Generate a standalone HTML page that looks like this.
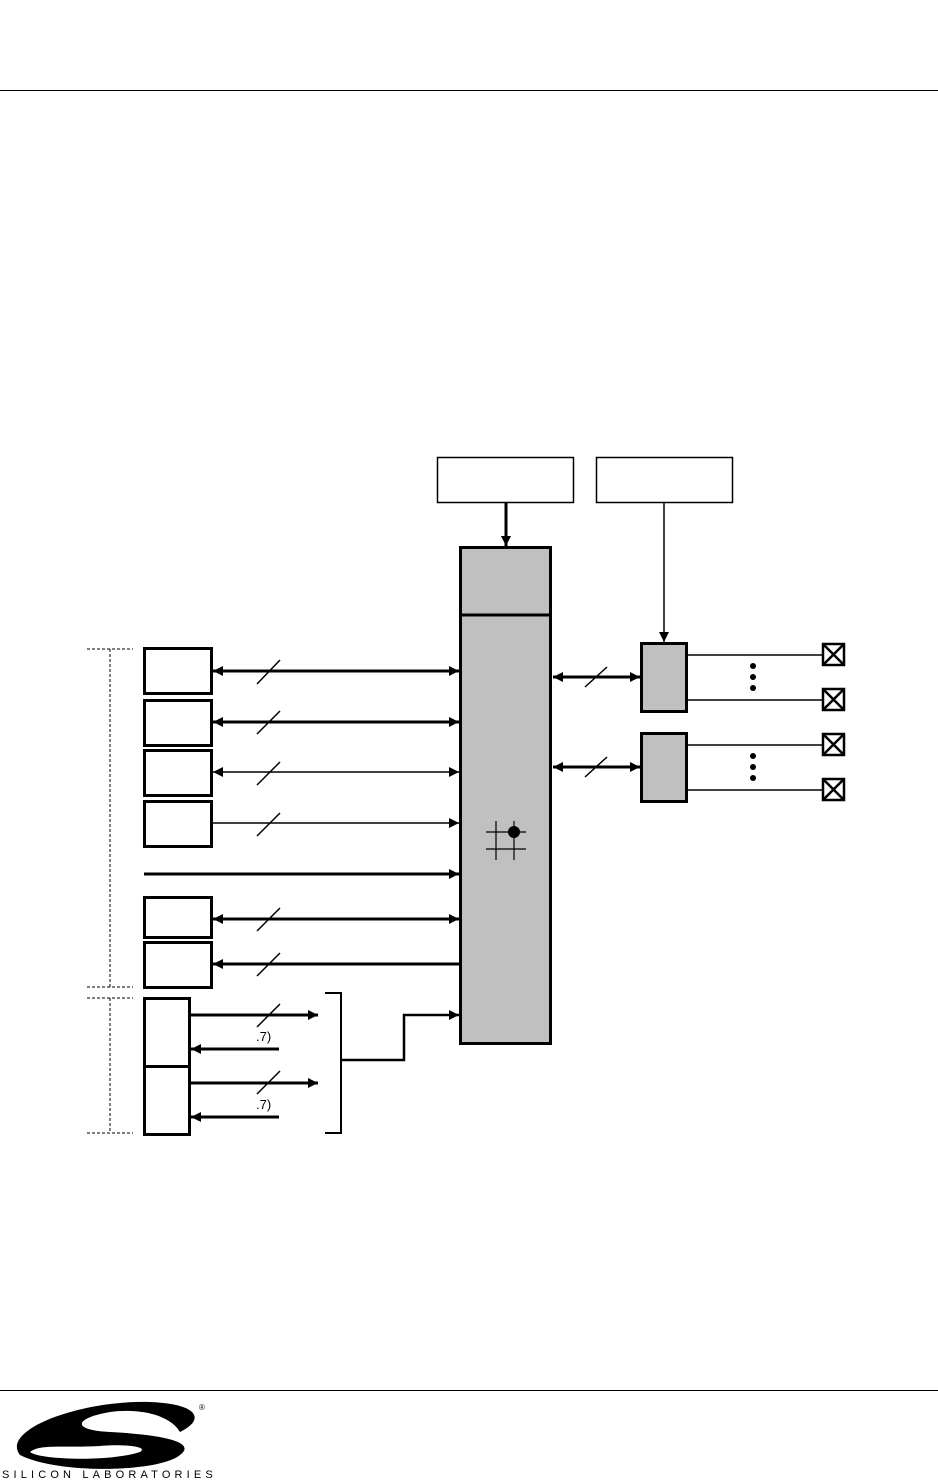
<!DOCTYPE html>
<html><head><style>body{margin:0;background:#fff}svg{display:block}</style></head><body>
<svg width="938" height="1481" viewBox="0 0 938 1481" xmlns="http://www.w3.org/2000/svg" font-family="Liberation Sans, sans-serif">
<defs>
<marker id="b" viewBox="0 0 10 10" refX="10" refY="5" markerWidth="13" markerHeight="10" orient="auto-start-reverse" markerUnits="userSpaceOnUse"><path d="M0,0L10,5L0,10z"/></marker>
</defs>
<line x1="0" y1="90.5" x2="938" y2="90.5" stroke="#000" stroke-width="1"/>
<line x1="0" y1="1390.5" x2="938" y2="1390.5" stroke="#000" stroke-width="1"/>
<g stroke="#000" fill="none">
<rect x="437.5" y="457.5" width="136" height="45" stroke-width="1.5" fill="#fff"/>
<rect x="596.5" y="457.5" width="136" height="45" stroke-width="1.5" fill="#fff"/>
<line x1="506" y1="502" x2="506" y2="546" stroke-width="3" marker-end="url(#b)"/>
<line x1="664" y1="502" x2="664" y2="642" stroke-width="1.5" marker-end="url(#b)"/>
<rect x="460.5" y="547.5" width="90" height="496" stroke-width="3" fill="#c0c0c0"/>
<line x1="460" y1="615" x2="551" y2="615" stroke-width="3"/>
<rect x="641.5" y="643.5" width="45" height="68" stroke-width="3" fill="#c0c0c0"/>
<rect x="641.5" y="733.5" width="45" height="68" stroke-width="3" fill="#c0c0c0"/>
<g stroke-width="1.5"><line x1="686" y1="655" x2="822" y2="655"/><line x1="686" y1="700" x2="822" y2="700"/><line x1="686" y1="745" x2="822" y2="745"/><line x1="686" y1="790" x2="822" y2="790"/></g>
<g stroke-width="2.5">
<rect x="823" y="644" width="21" height="21"/><path d="M823,644L844,665M844,644L823,665"/>
<rect x="823" y="689" width="21" height="21"/><path d="M823,689L844,710M844,689L823,710"/>
<rect x="823" y="734" width="21" height="21"/><path d="M823,734L844,755M844,734L823,755"/>
<rect x="823" y="779" width="21" height="21"/><path d="M823,779L844,800M844,779L823,800"/>
</g>
<line x1="553" y1="677" x2="640" y2="677" stroke-width="3" marker-start="url(#b)" marker-end="url(#b)"/>
<line x1="553" y1="767" x2="640" y2="767" stroke-width="3" marker-start="url(#b)" marker-end="url(#b)"/>
<line x1="585" y1="687" x2="607" y2="667" stroke-width="1.5"/>
<line x1="585" y1="777" x2="607" y2="757" stroke-width="1.5"/>
<g stroke-width="1.2"><line x1="496" y1="821" x2="496" y2="860"/><line x1="514" y1="821" x2="514" y2="860"/><line x1="486" y1="832" x2="526" y2="832"/><line x1="486" y1="849" x2="526" y2="849"/></g>
<g stroke-width="3" fill="#fff">
<rect x="144.5" y="648.5" width="67" height="45"/><rect x="144.5" y="700.5" width="67" height="45"/>
<rect x="144.5" y="750.5" width="67" height="45"/><rect x="144.5" y="801.5" width="67" height="45"/>
<rect x="144.5" y="897.5" width="67" height="40"/><rect x="144.5" y="942.5" width="67" height="45"/>
<rect x="144.5" y="998.5" width="45" height="68"/><rect x="144.5" y="1066.5" width="45" height="68"/>
</g>
<line x1="213" y1="671" x2="459" y2="671" stroke-width="3" marker-start="url(#b)" marker-end="url(#b)"/>
<line x1="213" y1="722" x2="459" y2="722" stroke-width="3" marker-start="url(#b)" marker-end="url(#b)"/>
<line x1="213" y1="772" x2="459" y2="772" stroke-width="1.5" marker-start="url(#b)" marker-end="url(#b)"/>
<line x1="212" y1="823" x2="459" y2="823" stroke-width="1.5" marker-end="url(#b)"/>
<line x1="144" y1="874" x2="459" y2="874" stroke-width="3" marker-end="url(#b)"/>
<line x1="213" y1="919" x2="459" y2="919" stroke-width="3" marker-start="url(#b)" marker-end="url(#b)"/>
<line x1="213" y1="964" x2="460" y2="964" stroke-width="3" marker-start="url(#b)"/>
<g stroke-width="1.5">
<line x1="257" y1="684" x2="280" y2="660"/><line x1="257" y1="734" x2="280" y2="711"/>
<line x1="257" y1="785" x2="280" y2="762"/><line x1="257" y1="836" x2="280" y2="813"/>
<line x1="257" y1="931" x2="280" y2="908"/><line x1="257" y1="976" x2="280" y2="953"/>
<line x1="257" y1="1027" x2="280" y2="1004"/><line x1="257" y1="1094" x2="280" y2="1071"/>
</g>
<line x1="190" y1="1015" x2="318" y2="1015" stroke-width="3" marker-end="url(#b)"/>
<line x1="279" y1="1049" x2="191" y2="1049" stroke-width="3" marker-end="url(#b)"/>
<line x1="190" y1="1083" x2="318" y2="1083" stroke-width="3" marker-end="url(#b)"/>
<line x1="279" y1="1117" x2="191" y2="1117" stroke-width="3" marker-end="url(#b)"/>
<path d="M325,993H341V1133H325" stroke-width="2"/>
<path d="M341,1060H404V1015H459" stroke-width="2.5" marker-end="url(#b)"/>
<g stroke-width="1" stroke-dasharray="3,2">
<line x1="87" y1="649" x2="133" y2="649"/><line x1="87" y1="987" x2="133" y2="987"/>
<line x1="87" y1="998" x2="133" y2="998"/><line x1="87" y1="1133" x2="133" y2="1133"/>
<line x1="110" y1="649" x2="110" y2="987"/><line x1="110" y1="998" x2="110" y2="1133"/>
</g>
</g>
<g fill="#000"><circle cx="753" cy="666" r="3"/><circle cx="753" cy="677" r="3"/><circle cx="753" cy="688" r="3"/>
<circle cx="753" cy="756" r="3"/><circle cx="753" cy="767" r="3"/><circle cx="753" cy="778" r="3"/>
<circle cx="514" cy="832" r="6"/></g>
<text x="256" y="1041" font-size="13">.7)</text>
<text x="256" y="1109" font-size="13">.7)</text>
<path d="M20,1455C0,1430 80,1400 150,1402C200,1404 205,1420 180,1432C170,1415 140,1408 110,1412C75,1418 70,1430 110,1432C150,1434 200,1440 180,1455C160,1472 60,1475 20,1455ZM30,1452C40,1460 110,1462 140,1452C150,1446 120,1444 100,1446C60,1448 40,1444 30,1452Z" fill="#000"/>
<text x="199" y="1410" font-size="8">®</text>
<text x="2" y="1478" font-size="11" letter-spacing="5.3" textLength="216" lengthAdjust="spacing">SILICON LABORATORIES</text>
</svg>
</body></html>
